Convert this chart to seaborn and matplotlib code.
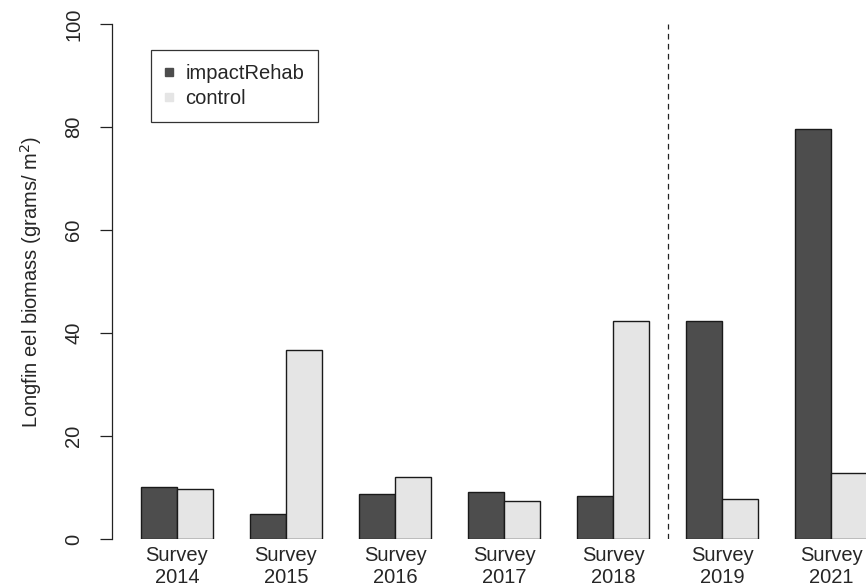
import pandas as pd
import matplotlib.pyplot as plt
import seaborn as sns
from matplotlib.lines import Line2D

# values
surveys = ["Survey\n2014", "Survey\n2015", "Survey\n2016", "Survey\n2017",
           "Survey\n2018", "Survey\n2019", "Survey\n2021"]
impact_rehab = [10.1, 4.9, 8.7, 9.1, 8.4, 42.4, 79.6]
control = [9.8, 36.7, 12.0, 7.3, 42.4, 7.7, 12.8]
groups = ["impactRehab", "control"]
colors = ["#4D4D4D", "#E5E5E5"]

df = pd.DataFrame({
    "survey": surveys * 2,
    "biomass": impact_rehab + control,
    "treatment": [groups[0]] * len(surveys) + [groups[1]] * len(surveys),
})

sns.set_style("white")
plt.rcParams["font.family"] = ["Liberation Sans", "DejaVu Sans"]
plt.rcParams["font.size"] = 14.5

fig = plt.figure(figsize=(8.66, 5.88), dpi=100)
ax = fig.add_axes([112 / 866, 49 / 588, 754 / 866, 515 / 588])

sns.barplot(data=df, x="survey", y="biomass", hue="treatment",
            palette=colors, width=2 / 3, gap=0, edgecolor="#1a1a1a",
            linewidth=1.0, legend=False, ax=ax)

ax.set_xlim(-0.596, 6.32)
ax.set_ylim(0, 100)
ax.set_yticks([0, 20, 40, 60, 80, 100])
for lab in ax.get_yticklabels():
    lab.set_rotation(90)
    lab.set_va("center")
ax.tick_params(axis="y", left=True, length=8.6, width=0.9, color="#222222",
               pad=12, labelsize=14.5)
ax.tick_params(axis="x", bottom=False, length=0, pad=5, labelsize=14.5)
ax.set_xlabel("")
ax.set_ylabel("Longfin eel biomass (grams/ m$^2$)", fontsize=14.5, labelpad=15)

for s in ["top", "right", "bottom"]:
    ax.spines[s].set_visible(False)
ax.spines["left"].set_color("#222222")
ax.spines["left"].set_linewidth(0.9)

# separator between pre and post rehabilitation surveys
ax.axvline(surveys.index("Survey\n2019") - 0.5, ymin=0, ymax=1,
           color="#222222", lw=0.9, dashes=(4.5, 3.5))

handles = [Line2D([], [], marker="s", linestyle="none", markersize=5.5,
                  markerfacecolor=c, markeredgecolor=c) for c in colors]
leg = ax.legend(handles, groups, loc="upper left", bbox_to_anchor=(0.0517, 0.9495),
                borderaxespad=0, frameon=True, fancybox=False, edgecolor="black",
                handlelength=0.4, handletextpad=0.6, borderpad=0.7,
                labelspacing=0.3, fontsize=14.5)
leg.get_frame().set_linewidth(0.9)

plt.savefig("out.png", dpi=100)
